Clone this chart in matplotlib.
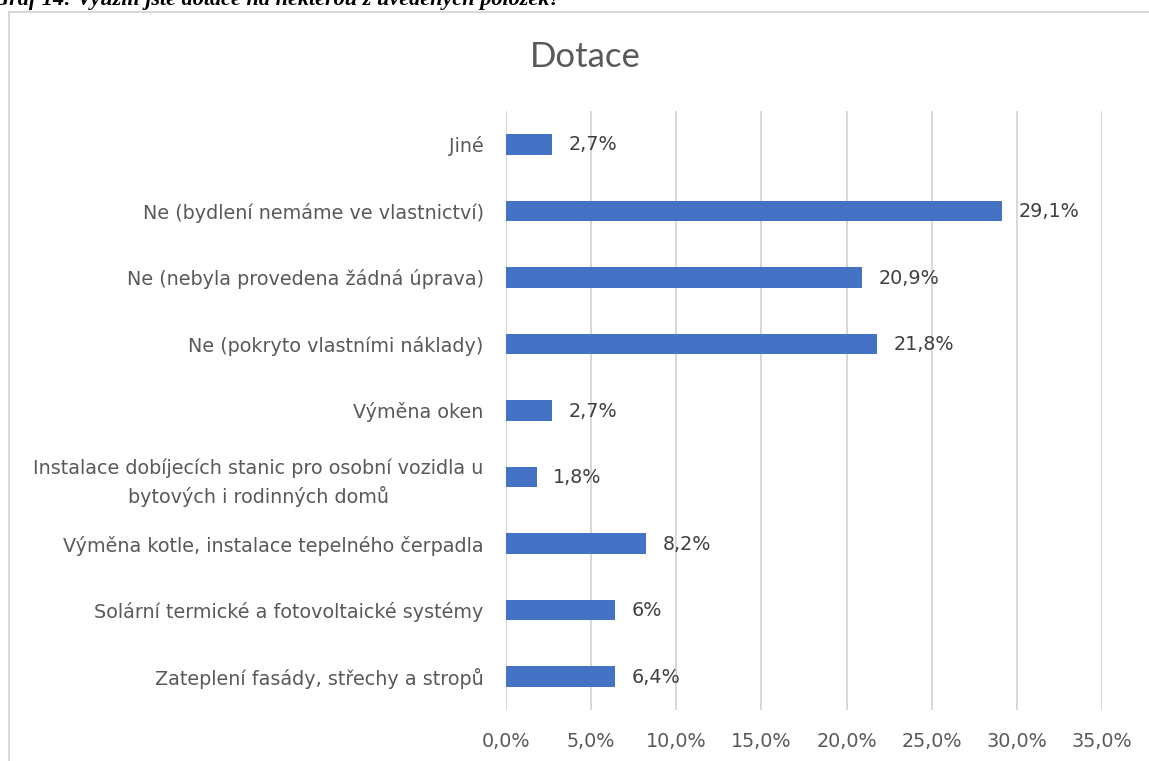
"""Horizontal bar chart: Dotace (survey answers, share of respondents)."""
import matplotlib
matplotlib.use("Agg")
import matplotlib.pyplot as plt
from matplotlib.patches import Rectangle

categories = [
    "Jiné",
    "Ne (bydlení nemáme ve vlastnictví)",
    "Ne (nebyla provedena žádná úprava)",
    "Ne (pokryto vlastními náklady)",
    "Výměna oken",
    "Instalace dobíjecích stanic pro osobní vozidla u\nbytových i rodinných domů",
    "Výměna kotle, instalace tepelného čerpadla",
    "Solární termické a fotovoltaické systémy",
    "Zateplení fasády, střechy a stropů",
]
values = [2.7, 29.1, 20.9, 21.8, 2.7, 1.8, 8.2, 6.4, 6.4]
value_labels = ["2,7%", "29,1%", "20,9%", "21,8%", "2,7%", "1,8%", "8,2%", "6%", "6,4%"]
xticks = [0, 5, 10, 15, 20, 25, 30, 35]
xtick_labels = ["0,0%", "5,0%", "10,0%", "15,0%", "20,0%", "25,0%", "30,0%", "35,0%"]

plt.rcParams["font.family"] = ["DejaVu Sans"]
text_col = "#595959"
bar_col = "#4472C4"
grid_col = "#D9D9D9"

W, H = 1149, 761
fig = plt.figure(figsize=(W / 100, H / 100), dpi=100)

# chart-area border (runs off the right and bottom edges)
fig.patches.append(Rectangle((9 / W, -0.05), 1.2, 1 - 12 / H + 0.05,
                             transform=fig.transFigure, fill=False,
                             edgecolor=grid_col, lw=1.5))

# cut-off caption above the chart
fig.text(-0.006, 1 - 5 / H, "Graf 14: Využili jste dotace na některou z uvedených položek?",
         family="Liberation Serif", weight="bold", style="italic",
         fontsize=16, va="baseline", ha="left", color="black")

ax = fig.add_axes([506 / W, 1 - 710 / H, (1102 - 506) / W, (710 - 111) / H])
y = list(range(len(categories)))[::-1]
ax.barh(y, values, height=0.31, color=bar_col, zorder=3)

for yi, v, lab in zip(y, values, value_labels):
    ax.annotate(lab, (v, yi), xytext=(12, -0.5), textcoords="offset points",
                va="center", ha="left", fontsize=13.8, color="#404040")

ax.set_xlim(0, 35)
ax.set_ylim(-0.5, len(categories) - 0.5)
ax.set_xticks(xticks)
ax.set_xticklabels(xtick_labels)
ax.set_yticks(y)
ax.set_yticklabels(categories, multialignment="center", linespacing=1.45)
ax.tick_params(axis="both", length=0, labelsize=13.8, labelcolor=text_col)
ax.tick_params(axis="y", pad=16)
ax.tick_params(axis="x", pad=16)
ax.grid(axis="x", color=grid_col, lw=1.5, zorder=0)
for s in ax.spines.values():
    s.set_visible(False)

fig.text(585 / W, 1 - 57 / H, "Dotace", ha="center", va="center",
         family=["Lato", "DejaVu Sans"], fontsize=25, color=text_col)

fig.savefig("out.png", dpi=100)
